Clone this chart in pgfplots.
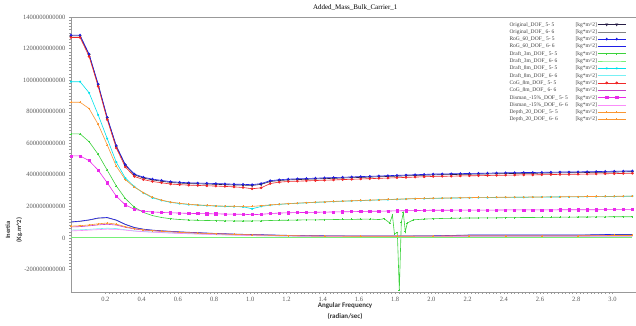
\documentclass[border=0pt]{standalone}
\usepackage{pgfplots}
\pgfplotsset{compat=1.18}
\usepackage{pgfplotstable}
\usepackage{fontspec}
\setmainfont{Liberation Serif}
\newfontfamily\carlito{Carlito}

\definecolor{cOrig}{RGB}{40,30,70}
\definecolor{cOrigB}{RGB}{130,130,130}
\definecolor{cRoG}{RGB}{30,30,230}
\definecolor{cDthree}{RGB}{60,210,60}
\definecolor{cDthreeB}{RGB}{120,240,120}
\definecolor{cDeight}{RGB}{0,225,235}
\definecolor{cDeightB}{RGB}{120,240,245}
\definecolor{cCoG}{RGB}{240,40,40}
\definecolor{cCoGB}{RGB}{200,60,200}
\definecolor{cDis}{RGB}{235,40,235}
\definecolor{cDisB}{RGB}{250,140,250}
\definecolor{cDep}{RGB}{250,150,50}

% pitch (DOF 5-5), values in units of 1e11 kg m^2
\pgfplotstableread{
x Orig RoG Deight CoG Dis Dep
0.01 12.80 12.85 9.90 12.70 5.20 8.60
0.06 12.80 12.85 9.90 12.70 5.20 8.60
0.11 11.60 11.65 9.20 11.50 4.90 8.20
0.16 9.70 9.75 7.80 9.60 4.30 7.20
0.21 7.60 7.65 6.30 7.50 3.50 5.90
0.26 5.80 5.85 4.80 5.70 2.65 4.55
0.31 4.60 4.65 3.80 4.50 2.10 3.70
0.36 4.00 4.05 3.25 3.90 1.82 3.22
0.41 3.80 3.85 2.85 3.70 1.70 2.88
0.46 3.68 3.73 2.55 3.58 1.65 2.58
0.51 3.60 3.65 2.38 3.50 1.62 2.40
0.56 3.52 3.57 2.26 3.42 1.60 2.28
0.61 3.48 3.53 2.18 3.38 1.58 2.20
0.66 3.45 3.50 2.12 3.35 1.56 2.14
0.71 3.43 3.48 2.08 3.33 1.55 2.10
0.76 3.42 3.47 2.05 3.31 1.54 2.07
0.81 3.40 3.45 2.02 3.29 1.53 2.04
0.86 3.38 3.43 2.00 3.27 1.52 2.02
0.91 3.36 3.41 1.99 3.24 1.51 2.01
0.96 3.35 3.40 1.98 3.20 1.50 2.00
1.01 3.33 3.38 1.85 3.12 1.48 2.00
1.06 3.40 3.45 2.00 3.18 1.50 2.05
1.11 3.58 3.63 2.08 3.45 1.55 2.10
1.16 3.64 3.69 2.13 3.54 1.58 2.14
1.21 3.68 3.73 2.17 3.58 1.60 2.18
1.26 3.70 3.75 2.20 3.60 1.61 2.21
1.31 3.72 3.77 2.23 3.62 1.62 2.24
1.36 3.74 3.79 2.26 3.64 1.63 2.27
1.41 3.76 3.81 2.28 3.66 1.64 2.29
1.46 3.78 3.83 2.31 3.68 1.65 2.32
1.51 3.80 3.85 2.33 3.70 1.66 2.34
1.56 3.82 3.87 2.35 3.72 1.67 2.36
1.61 3.84 3.89 2.37 3.74 1.68 2.38
1.66 3.86 3.91 2.39 3.76 1.69 2.40
1.71 3.88 3.93 2.41 3.78 1.70 2.42
1.76 3.90 3.95 2.43 3.80 1.71 2.44
1.81 3.92 3.97 2.45 3.82 1.72 2.46
1.86 3.94 3.99 2.47 3.84 1.73 2.48
1.91 3.96 4.01 2.49 3.86 1.74 2.50
1.96 3.98 4.03 2.50 3.88 1.75 2.51
2.01 4.00 4.05 2.51 3.90 1.76 2.52
2.06 4.01 4.06 2.52 3.91 1.76 2.53
2.11 4.02 4.07 2.53 3.92 1.76 2.54
2.16 4.03 4.08 2.54 3.93 1.77 2.55
2.21 4.04 4.09 2.55 3.94 1.77 2.56
2.26 4.05 4.10 2.56 3.95 1.77 2.57
2.31 4.06 4.11 2.56 3.96 1.77 2.57
2.36 4.07 4.12 2.57 3.97 1.77 2.58
2.41 4.08 4.13 2.57 3.98 1.78 2.58
2.46 4.09 4.14 2.58 3.99 1.78 2.59
2.51 4.10 4.15 2.58 4.00 1.78 2.59
2.56 4.10 4.15 2.59 4.00 1.78 2.60
2.61 4.11 4.16 2.59 4.01 1.78 2.60
2.66 4.12 4.17 2.60 4.02 1.78 2.61
2.71 4.13 4.18 2.60 4.03 1.79 2.61
2.76 4.13 4.18 2.61 4.03 1.79 2.62
2.81 4.14 4.19 2.61 4.04 1.79 2.62
2.86 4.15 4.20 2.62 4.05 1.79 2.63
2.91 4.16 4.21 2.62 4.06 1.79 2.63
2.96 4.17 4.22 2.63 4.07 1.80 2.64
3.01 4.18 4.23 2.63 4.08 1.80 2.64
3.06 4.19 4.24 2.64 4.09 1.80 2.65
3.11 4.20 4.25 2.65 4.10 1.80 2.65
}\pitch

% Draft_3m DOF 5-5
\pgfplotstableread{
x y
0.01 6.60
0.06 6.60
0.11 6.10
0.16 5.30
0.21 4.30
0.26 3.30
0.31 2.50
0.36 1.95
0.41 1.62
0.46 1.42
0.51 1.30
0.56 1.22
0.61 1.17
0.66 1.14
0.71 1.12
0.76 1.11
0.81 1.10
0.86 1.09
0.91 1.08
0.96 1.08
1.01 1.08
1.06 1.09
1.11 1.11
1.16 1.12
1.21 1.13
1.26 1.14
1.31 1.15
1.36 1.15
1.41 1.16
1.46 1.17
1.51 1.18
1.56 1.18
1.61 1.19
1.66 1.20
1.71 1.17
1.74 1.22
1.77 0.95
1.785 1.45
1.796 0.25
1.812 0.35
1.823 -3.30
1.834 1.00
1.845 1.60
1.856 0.40
1.867 0.95
1.90 1.15
1.96 1.20
2.01 1.22
2.06 1.24
2.11 1.25
2.16 1.26
2.21 1.27
2.26 1.27
2.31 1.28
2.36 1.28
2.41 1.29
2.46 1.29
2.51 1.30
2.56 1.30
2.61 1.31
2.66 1.31
2.71 1.32
2.76 1.32
2.81 1.33
2.86 1.33
2.91 1.34
2.96 1.34
3.01 1.35
3.06 1.35
3.11 1.35
}\dthree

% roll (DOF 6-6), units of 1e11
\pgfplotstableread{
x Orig RoG Dthree Deight CoG Dis Dep
0.01 1.00 1.02 0.06 0.50 0.70 0.45 0.75
0.06 1.05 1.07 0.06 0.52 0.72 0.47 0.78
0.11 1.13 1.15 0.06 0.55 0.77 0.50 0.83
0.16 1.25 1.27 0.06 0.59 0.83 0.53 0.90
0.21 1.28 1.30 0.06 0.62 0.87 0.56 0.95
0.26 1.12 1.14 0.06 0.60 0.82 0.55 0.88
0.31 0.85 0.87 0.06 0.52 0.68 0.50 0.72
0.36 0.65 0.67 0.06 0.45 0.57 0.44 0.60
0.41 0.55 0.56 0.06 0.41 0.50 0.40 0.52
0.46 0.49 0.50 0.06 0.38 0.46 0.37 0.47
0.51 0.45 0.46 0.06 0.35 0.42 0.34 0.43
0.61 0.38 0.39 0.06 0.30 0.36 0.29 0.36
0.71 0.33 0.34 0.06 0.26 0.31 0.25 0.31
0.81 0.28 0.29 0.06 0.22 0.27 0.21 0.27
0.91 0.24 0.25 0.06 0.19 0.23 0.18 0.23
1.01 0.21 0.22 0.06 0.16 0.20 0.15 0.20
1.21 0.16 0.17 0.06 0.12 0.15 0.12 0.15
1.41 0.13 0.14 0.06 0.10 0.12 0.10 0.12
1.61 0.12 0.13 0.06 0.09 0.11 0.09 0.11
1.81 0.12 0.13 0.06 0.09 0.11 0.09 0.11
2.01 0.13 0.14 0.06 0.09 0.12 0.09 0.12
2.21 0.18 0.19 0.06 0.10 0.14 0.10 0.14
2.41 0.18 0.19 0.06 0.10 0.14 0.10 0.14
2.61 0.18 0.19 0.06 0.10 0.14 0.10 0.14
2.81 0.18 0.19 0.06 0.10 0.14 0.10 0.14
3.01 0.22 0.23 0.06 0.11 0.16 0.11 0.16
3.11 0.22 0.23 0.06 0.11 0.16 0.11 0.16
}\roll

\newcommand{\LE}[1]{\addlegendentry{\makebox[66pt][l]{#1}[kg*m\textasciicircum 2]}}

\begin{document}
\begin{tikzpicture}
\path[use as bounding box] (-71pt,-33pt) rectangle (565pt,292pt);
\begin{axis}[
  scale only axis,
  width=565pt, height=275pt,
  at={(0,0)}, anchor=south west,
  xmin=0.01, xmax=3.13,
  ymin=-3.42, ymax=14,
  axis x line=box, axis y line=left,
  x axis line style={-, draw=gray!80},
  y axis line style={-, draw=gray!80},
  xtick={0.2,0.4,...,3.01},
  xticklabels={0.2,0.4,0.6,0.8,1.0,1.2,1.4,1.6,1.8,2.0,2.2,2.4,2.6,2.8,3.0},
  ytick={-2,0,2,4,6,8,10,12,14},
  yticklabels={-200000000000,0,200000000000,400000000000,600000000000,800000000000,1000000000000,1200000000000,1400000000000},
  xtick pos=bottom,
  minor x tick num=9, minor y tick num=9,
  tick align=outside,
  major tick length=2pt, minor tick length=1.5pt,
  every tick/.style={gray!80, line width=0.4pt},
  tick label style={font=\fontsize{6.5}{7}\selectfont, text=black!65},
  title={Added\_Mass\_Bulk\_Carrier\_1},
  title style={font=\fontsize{7}{8}\selectfont, at={(0.503,1)}, yshift=-2.5pt},
  xlabel={\carlito\bfseries Angular Frequency\\\carlito\bfseries (radian/sec)},
  xlabel style={font=\fontsize{7}{11.5}\selectfont, align=center, at={(rel axis cs:0.485,0)}, anchor=north, yshift=-7pt, text=black!80},
  legend cell align=left,
  legend plot pos=right,
  legend style={draw=none, fill=none, at={(0.988,0.992)}, anchor=north east,
    font=\fontsize{5.5}{6}\selectfont, text=black!75,
    nodes={inner sep=0.4pt, text height=4.2pt, text depth=1.2pt},
    row sep=1.1pt},
  legend image code/.code={\draw[mark indices={2,3}] plot coordinates {(0pt,0pt) (9pt,0pt) (19pt,0pt) (28pt,0pt)};},
  every axis plot/.append style={line width=0.6pt, mark size=1pt},
]
\addplot[cOrig, mark=triangle*, mark size=1.2pt, mark options={rotate=180}] table[x=x,y=Orig] {\pitch}; \LE{Original\_DOF\_ 5- 5}
\addplot[cOrigB] table[x=x,y=Orig] {\roll}; \LE{Original\_DOF\_ 6- 6}
\addplot[cRoG, mark=diamond*] table[x=x,y=RoG] {\pitch}; \LE{RoG\_60\_DOF\_ 5- 5}
\addplot[cRoG] table[x=x,y=RoG] {\roll}; \LE{RoG\_60\_DOF\_ 6- 6}
\addplot[cDthree, mark=+, mark size=0.9pt] table[x=x,y=y] {\dthree}; \LE{Draft\_3m\_DOF\_ 5- 5}
\addplot[cDthreeB] table[x=x,y=Dthree] {\roll}; \LE{Draft\_3m\_DOF\_ 6- 6}
\addplot[cDeight, mark=asterisk] table[x=x,y=Deight] {\pitch}; \LE{Draft\_8m\_DOF\_ 5- 5}
\addplot[cDeightB] table[x=x,y=Deight] {\roll}; \LE{Draft\_8m\_DOF\_ 6- 6}
\addplot[cCoG, mark=*] table[x=x,y=CoG] {\pitch}; \LE{CoG\_8m\_DOF\_ 5- 5}
\addplot[cCoGB] table[x=x,y=CoG] {\roll}; \LE{CoG\_8m\_DOF\_ 6- 6}
\addplot[cDis, mark=square*, mark size=1.1pt] table[x=x,y=Dis] {\pitch}; \LE{Disman\_-15\%\_DOF\_ 5- 5}
\addplot[cDisB] table[x=x,y=Dis] {\roll}; \LE{Disman\_-15\%\_DOF\_ 6- 6}
\addplot[cDep, mark=+] table[x=x,y=Dep] {\pitch}; \LE{Depth\_20\_DOF\_ 5- 5}
\addplot[cDep, mark=+] table[x=x,y=Dep] {\roll}; \LE{Depth\_20\_DOF\_ 6- 6}
\end{axis}
\node[rotate=90, align=center, font=\fontsize{6.5}{11}\selectfont\carlito\bfseries, text=black!80]
  at (-57pt,62pt) {Inertia\\(Kg.m\textasciicircum 2)};
\end{tikzpicture}
\end{document}
